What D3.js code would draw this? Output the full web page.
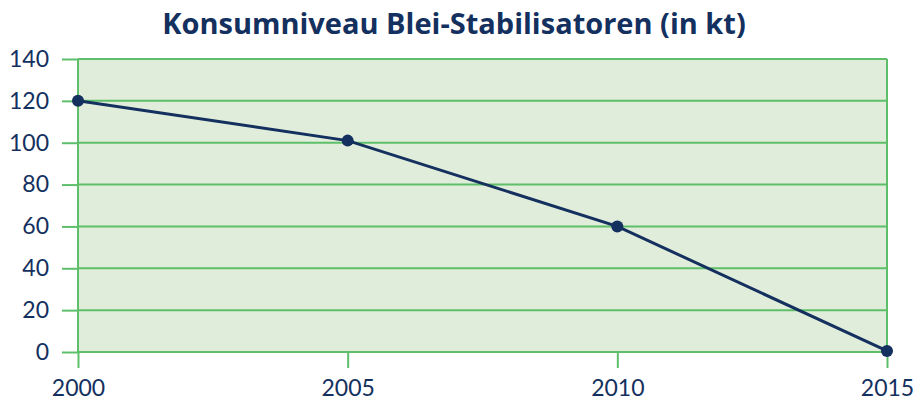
<!DOCTYPE html>
<html>
<head>
<meta charset="utf-8">
<script src="https://cdn.jsdelivr.net/npm/d3@7"></script>
<style>
  html, body { margin: 0; padding: 0; background: #fff; }
  svg { display: block; font-family: "Lato", "Open Sans", sans-serif; }
</style>
</head>
<body>
<div id="root"></div>
<script>
// ——— données
const years = [2000, 2005, 2010, 2015];
const consumption = [120, 101, 60, 0.5];
const yTicks = [0, 20, 40, 60, 80, 100, 120, 140];
const title = "Konsumniveau Blei-Stabilisatoren (in kt)";

const navy = "#14305e";
const grid = "#5dbf6a";
const fill = "#e1eddb";

const width = 920, height = 402;
const margin = { top: 59, right: 33, bottom: 50, left: 78 };
const innerW = width - margin.left - margin.right;
const innerH = height - margin.top - margin.bottom;

const svg = d3.select("#root").append("svg")
  .attr("width", width).attr("height", height);

svg.append("text")
  .attr("x", 454).attr("y", 34)
  .attr("text-anchor", "middle")
  .attr("fill", navy)
  .attr("font-family", "'Open Sans', sans-serif")
  .attr("font-size", 29).attr("font-weight", "bold")
  .text(title);

const g = svg.append("g").attr("transform", `translate(${margin.left},${margin.top})`);

const x = d3.scaleLinear().domain([2000, 2015]).range([0, innerW]);
const y = d3.scaleLinear().domain([0, 140]).range([innerH, 0]);

// fond
g.append("rect").attr("width", innerW).attr("height", innerH).attr("fill", fill);

// ticks gauche
const yAxis = g.append("g")
  .call(d3.axisLeft(y).tickValues(yTicks).tickSize(16).tickPadding(13).tickFormat(d3.format("d")));
yAxis.select(".domain").remove();
yAxis.selectAll("line").attr("stroke", grid).attr("stroke-width", 2);
yAxis.selectAll("text").attr("fill", navy).attr("font-size", 23).attr("font-family", "Lato, sans-serif");

// grille horizontale
g.append("g").selectAll("line")
  .data(yTicks)
  .join("line")
  .attr("x1", 0).attr("x2", innerW)
  .attr("y1", d => y(d)).attr("y2", d => y(d))
  .attr("stroke", grid).attr("stroke-width", 2);

// bordures verticales
g.append("g").selectAll("line")
  .data([2000, 2015])
  .join("line")
  .attr("x1", d => x(d)).attr("x2", d => x(d))
  .attr("y1", 0).attr("y2", innerH)
  .attr("stroke", grid).attr("stroke-width", 2);

// axe x
const xAxis = g.append("g")
  .attr("transform", `translate(0,${innerH})`)
  .call(d3.axisBottom(x).tickValues(years).tickSize(16).tickPadding(12).tickFormat(d3.format("d")));
xAxis.select(".domain").remove();
xAxis.selectAll("line").attr("stroke", grid).attr("stroke-width", 2);
xAxis.selectAll("text").attr("fill", navy).attr("font-size", 23).attr("font-family", "Lato, sans-serif");

// ligne + points
const pts = years.map((yr, i) => ({ yr, v: consumption[i] }));
g.append("path")
  .datum(pts)
  .attr("fill", "none")
  .attr("stroke", navy)
  .attr("stroke-width", 3)
  .attr("d", d3.line().x(d => x(d.yr)).y(d => y(d.v)));

g.selectAll(".dot")
  .data(pts)
  .join("circle")
  .attr("class", "dot")
  .attr("cx", d => x(d.yr)).attr("cy", d => y(d.v))
  .attr("r", 6)
  .attr("fill", navy);
</script>
</body>
</html>
